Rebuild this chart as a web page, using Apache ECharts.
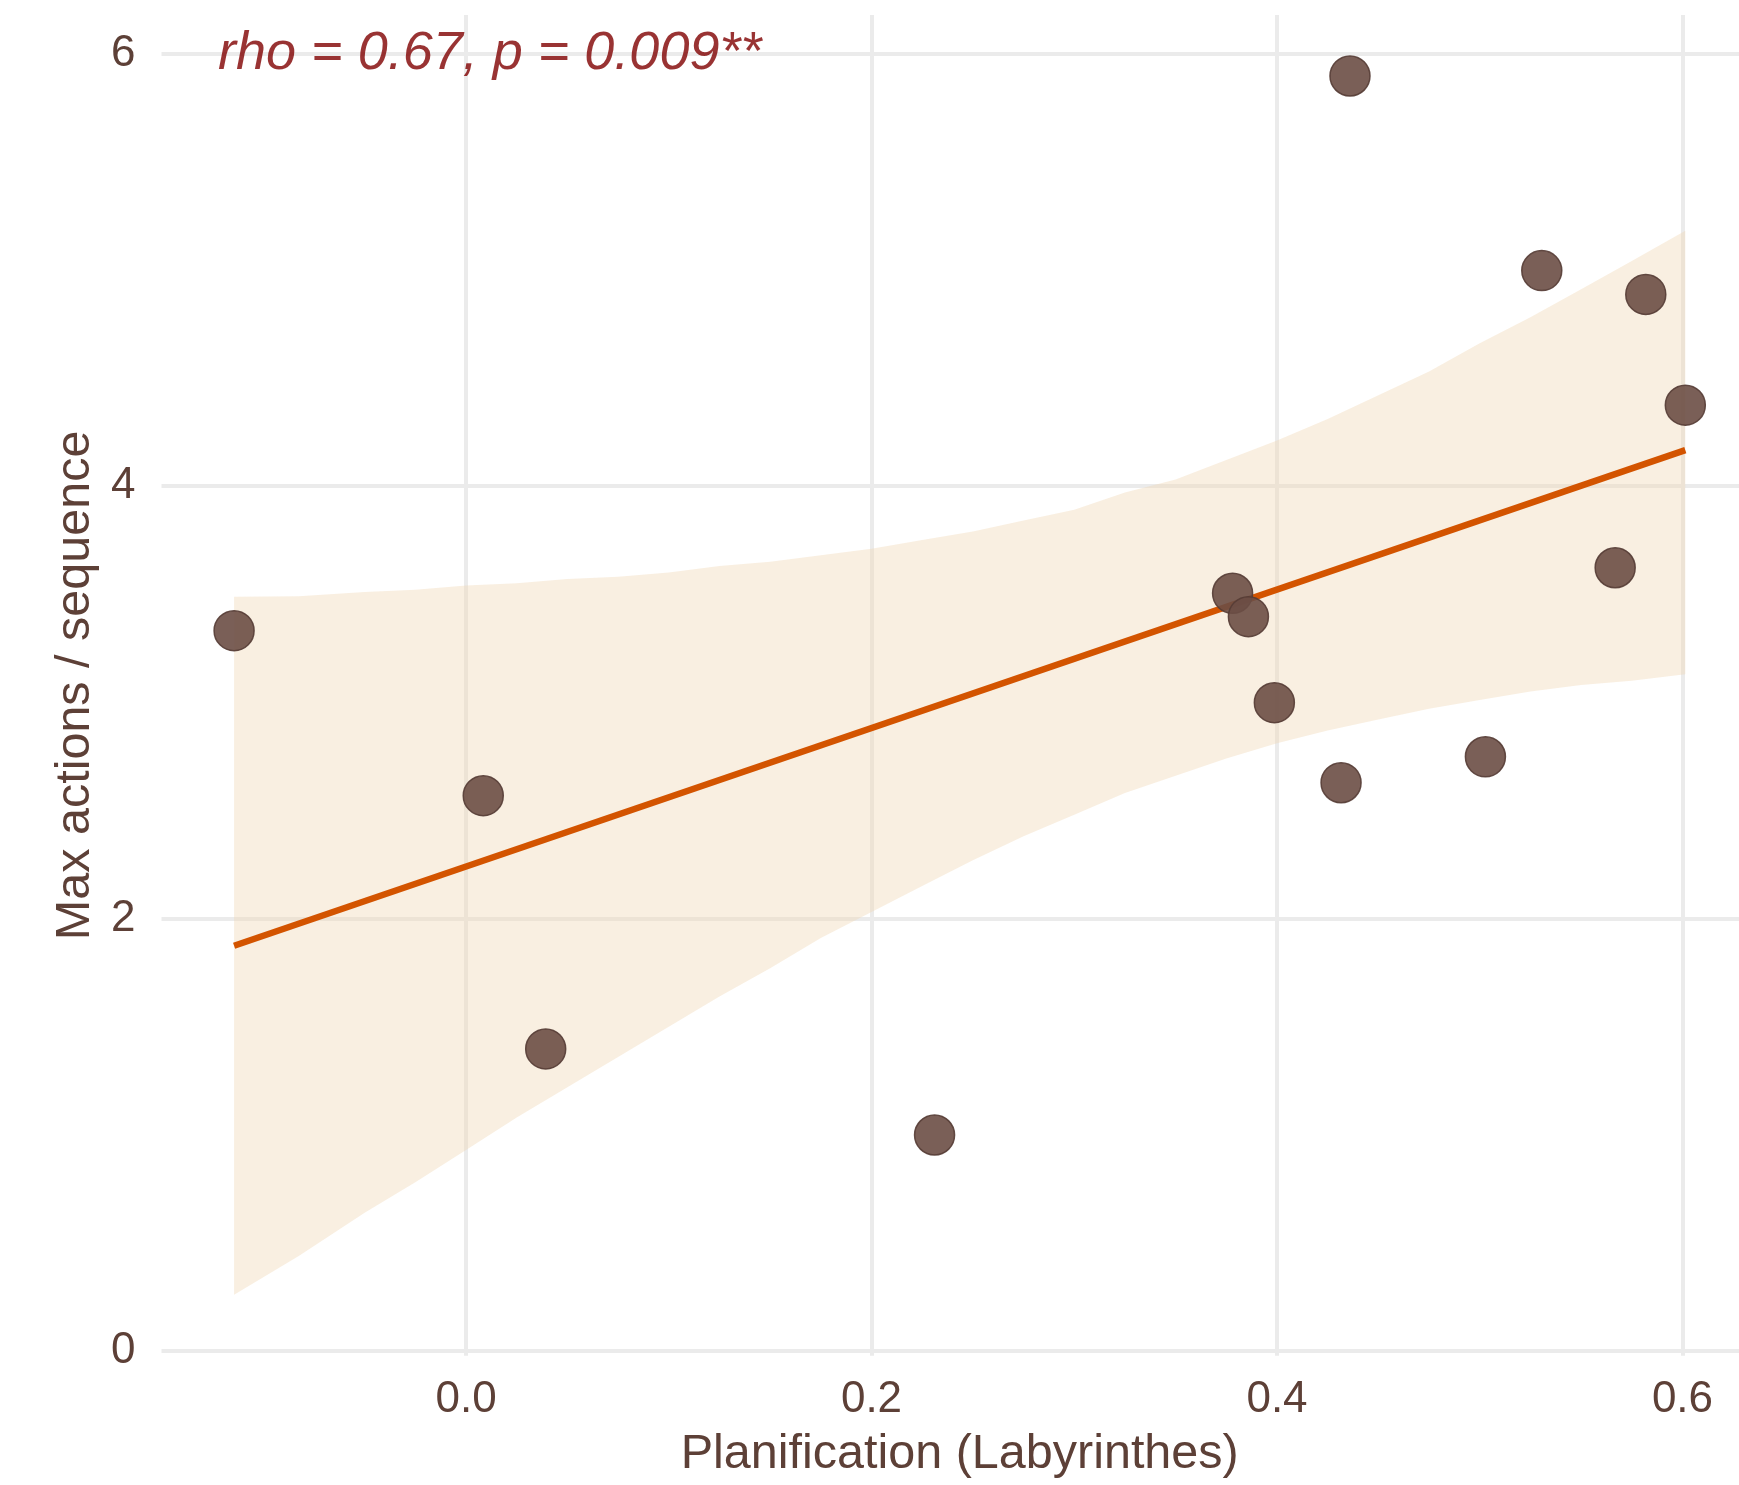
<!DOCTYPE html>
<html><head><meta charset="utf-8">
<script src="https://cdn.jsdelivr.net/npm/echarts@6/dist/echarts.min.js"></script>
<style>html,body{margin:0;padding:0;background:#fff}#c{width:1739px;height:1485px}</style>
</head><body><div id="c"></div>
<script>
// ---- data ----
const planification = [-0.1144, 0.0085, 0.0393, 0.2311, 0.3781, 0.3859, 0.3987, 0.4316, 0.4360, 0.5028, 0.5306, 0.5668, 0.5819, 0.6014];
const maxActions    = [3.331, 2.568, 1.397, 0.999, 3.504, 3.396, 2.998, 2.628, 5.896, 2.748, 4.996, 3.622, 4.886, 4.374];
const fitX = [-0.1144, 0.6014];
const fitY = [1.874, 4.166];
const bandX     = [-0.1144, -0.0825, -0.05, -0.025, 0, 0.025, 0.05, 0.075, 0.1, 0.125, 0.15, 0.175, 0.2, 0.225, 0.25, 0.275, 0.3, 0.325, 0.35, 0.375, 0.4, 0.425, 0.45, 0.475, 0.5, 0.525, 0.55, 0.575, 0.6014];
const bandLower = [0.26, 0.44, 0.64, 0.78, 0.93, 1.08, 1.22, 1.36, 1.50, 1.64, 1.77, 1.91, 2.03, 2.15, 2.27, 2.38, 2.48, 2.58, 2.66, 2.74, 2.81, 2.87, 2.92, 2.97, 3.01, 3.05, 3.08, 3.10, 3.13];
const bandUpper = [3.488, 3.49, 3.51, 3.52, 3.54, 3.55, 3.57, 3.58, 3.60, 3.63, 3.65, 3.68, 3.71, 3.75, 3.79, 3.84, 3.89, 3.97, 4.03, 4.12, 4.21, 4.31, 4.42, 4.53, 4.66, 4.78, 4.91, 5.04, 5.18];
const xTicks = [0, 0.2, 0.4, 0.6];
const yTicks = [0, 2, 4, 6];
const annotationText = 'rho = 0.67, p = 0.009**';
const annotationPos = [-0.1223, 6];
const xTitle = 'Planification (Labyrinthes)';
const yTitle = 'Max actions / sequence';

const FONT = "'Liberation Sans', Arial, sans-serif";
const BROWN = '#5D4037';

const chart = echarts.init(document.getElementById('c'), null, {renderer: 'canvas'});
const points = planification.map((x, i) => [x, maxActions[i]]);
const fitLine = fitX.map((x, i) => [x, fitY[i]]);

chart.setOption({
  animation: false,
  backgroundColor: '#ffffff',
  grid: {left: 161.5, top: 15, right: -18.9, bottom: 129.2, containLabel: false, outerBoundsMode: 'none'},
  xAxis: {
    type: 'value', min: -0.1502, max: 0.6372,
    axisLine: {show: false},
    axisTick: {show: false, customValues: xTicks},
    axisLabel: {customValues: xTicks, formatter: v => v.toFixed(1), color: BROWN, fontSize: 44, fontFamily: FONT, margin: 22},
    splitLine: {show: true, lineStyle: {color: '#EBEBEB', width: 4}},
    name: xTitle, nameLocation: 'middle', nameGap: 99,
    nameTextStyle: {color: BROWN, fontSize: 48.5, fontFamily: FONT, verticalAlign: 'middle'}
  },
  yAxis: {
    type: 'value', min: -0.022, max: 6.178,
    axisLine: {show: false},
    axisTick: {show: false, customValues: yTicks},
    axisLabel: {customValues: yTicks, formatter: v => String(Math.round(v)), color: BROWN, fontSize: 44, fontFamily: FONT, margin: 26},
    splitLine: {show: true, lineStyle: {color: '#EBEBEB', width: 4}},
    name: yTitle, nameLocation: 'middle', nameGap: 83, nameRotate: 90,
    nameTextStyle: {color: BROWN, fontSize: 48.5, fontFamily: FONT, verticalAlign: 'middle'}
  },
  series: [
    {
      type: 'custom', silent: true, z: 1,
      data: [[bandX[0], bandUpper[0]]],
      renderItem: function (params, api) {
        const pts = [];
        for (let i = 0; i < bandX.length; i++) pts.push(api.coord([bandX[i], bandUpper[i]]));
        for (let i = bandX.length - 1; i >= 0; i--) pts.push(api.coord([bandX[i], bandLower[i]]));
        return {type: 'polygon', shape: {points: pts}, style: {fill: 'rgba(240,215,180,0.4)'}};
      }
    },
    {
      type: 'line', data: fitLine, symbol: 'none', silent: true, z: 2,
      lineStyle: {color: '#D35400', width: 6.5}
    },
    {
      type: 'scatter', data: points, symbol: 'circle', symbolSize: 40, z: 3,
      itemStyle: {color: 'rgb(108,78,69)', opacity: 0.9, borderColor: 'rgb(85,60,53)', borderWidth: 1.5}
    },
    {
      type: 'scatter', data: [annotationPos], symbolSize: 0, silent: true, z: 4,
      label: {show: true, position: 'right', distance: 0, formatter: annotationText,
        color: '#7F0000', fontSize: 54, fontStyle: 'italic', fontFamily: FONT}
    }
  ]
});
</script></body></html>
